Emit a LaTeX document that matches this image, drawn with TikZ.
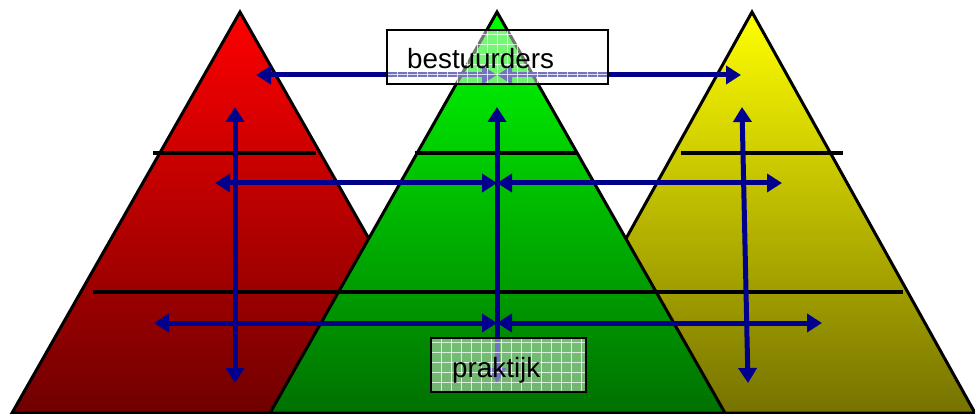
\documentclass[tikz,border=0pt]{standalone}
\usepackage{fontspec}
\setmainfont{Liberation Sans}
\usetikzlibrary{arrows.meta}
\definecolor{navyarrow}{RGB}{0,0,140}
\definecolor{redtop}{RGB}{255,0,0}
\definecolor{redbot}{RGB}{112,0,0}
\definecolor{greentop}{RGB}{0,255,0}
\definecolor{greenbot}{RGB}{0,112,0}
\definecolor{yellowtop}{RGB}{255,255,0}
\definecolor{yellowbot}{RGB}{118,114,0}
\tikzset{
  tri/.style={draw=black, line width=3pt, line join=miter},
  level/.style={draw=black, line width=3.5pt},
  link/.style={draw=navyarrow, line width=5pt,
    {Triangle[length=15pt,width=18pt]}-{Triangle[length=15pt,width=18pt]}},
  gridbox/.style={draw=black, fill=white, fill opacity=0.45, text opacity=1,
    inner sep=0pt,
    path picture={
      \foreach \i in {0,...,24}{
        \draw[white, line width=0.9pt, opacity=0.75]
          ([xshift=\i*10pt]path picture bounding box.south west) -- ++(0pt,70pt);
      }
      \foreach \j in {0,...,7}{
        \draw[white, line width=0.9pt, opacity=0.75]
          ([yshift=\j*10pt]path picture bounding box.south west) -- ++(250pt,0pt);
      }
    }},
  lbl/.style={font=\fontsize{27.8}{32}\selectfont, anchor=base west, inner sep=0pt}
}
\begin{document}
\begin{tikzpicture}[x=1pt,y=-1pt]
\useasboundingbox (0,0) rectangle (975,414);
% triangles
\path[tri, top color=redtop, bottom color=redbot] (12,413) -- (240,12) -- (468,413) -- cycle;
\path[tri, top color=yellowtop, bottom color=yellowbot] (529,413) -- (752,12) -- (975,413) -- cycle;
\path[tri, top color=greentop, bottom color=greenbot] (270,413) -- (497,12) -- (725,413) -- cycle;
% level lines
\coordinate (r1a) at (153,153); \coordinate (r1b) at (316,153);
\coordinate (g1a) at (415,153); \coordinate (g1b) at (578,153);
\coordinate (y1a) at (681,153); \coordinate (y1b) at (843,153);
\coordinate (l2a) at (93,292);  \coordinate (l2b) at (903,292);
\draw[level] (r1a) -- (r1b);
\draw[level] (g1a) -- (g1b);
\draw[level] (y1a) -- (y1b);
\draw[level] (l2a) -- (l2b);
% arrow end points
\coordinate (topL) at (256,75);  \coordinate (topC) at (497,75);  \coordinate (topR) at (741,75);
\coordinate (midL) at (215,183); \coordinate (midC) at (497,183); \coordinate (midR) at (782,183);
\coordinate (lowL) at (154,323); \coordinate (lowC) at (497,323); \coordinate (lowR) at (822,323);
\coordinate (redT) at (235,107); \coordinate (redB) at (235,383);
\coordinate (grnT) at (497,107); \coordinate (grnB) at (497,383);
\coordinate (yelT) at (742,107); \coordinate (yelB) at (748,383);
\draw[link] (topL) -- (topC);
\draw[link] (topR) -- (topC);
\draw[link] (midL) -- (midC);
\draw[link] (midR) -- (midC);
\draw[link] (lowL) -- (lowC);
\draw[link] (lowR) -- (lowC);
\draw[link] (redT) -- (redB);
\draw[link] (grnT) -- (grnB);
\draw[link] (yelT) -- (yelB);
% boxes
\node[gridbox, line width=1.6pt, minimum width=221pt, minimum height=54pt] (bestbox) at (497.5,57) {};
\node[gridbox, line width=2.4pt, minimum width=155pt, minimum height=54pt] (praktbox) at (508.5,365) {};
\node[lbl] (besttext) at (407,68.5) {bestuurders};
\node[lbl] (prakttext) at (452,377) {praktijk};
\end{tikzpicture}
\end{document}
